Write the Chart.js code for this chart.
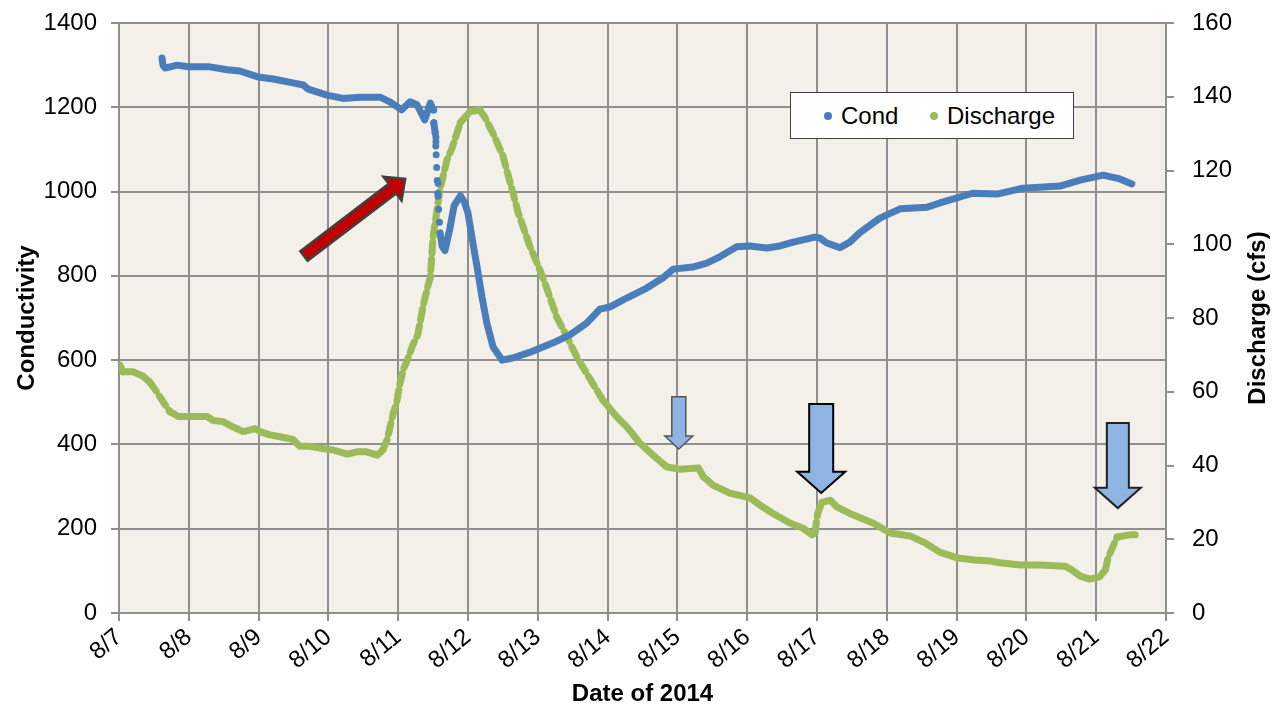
<!DOCTYPE html>
<html>
<head>
<meta charset="utf-8">
<script src="https://cdn.jsdelivr.net/npm/chart.js@4.4.1/dist/chart.umd.min.js"></script>
<style>
  body { margin: 0; background: #fff; }
  #wrap { position: relative; width: 1273px; height: 708px; }
  #legend {
    position: absolute; left: 790px; top: 92px; width: 282px; height: 45px;
    background: #fff; border: 1.5px solid #404040;
    font-family: "Liberation Sans", Arial, sans-serif; font-size: 24px; color: #000;
  }
  #legend span { position: absolute; top: 9px; }
  #legend i { position: absolute; top: 19px; width: 8px; height: 8px; border-radius: 50%; }
</style>
</head>
<body>
<div id="wrap">
  <canvas id="myChart" width="1273" height="708"></canvas>
  <div id="legend">
    <i style="left:33px;background:#4a7ebb"></i><span style="left:50px">Cond</span>
    <i style="left:139px;background:#9bbb59"></i><span style="left:156px">Discharge</span>
  </div>
</div>
<script>
// day of August 2014 (decimal) and the readings
const condDays = [7.616, 7.63, 7.66, 7.83, 7.99, 8.30, 8.55, 8.73, 8.99, 9.21, 9.49, 9.64, 9.71, 9.98,
  10.21, 10.45, 10.74, 10.88, 11.05, 11.17, 11.27, 11.38, 11.46, 11.50, 11.51, 11.53, 11.54, 11.55, 11.56,
  11.57, 11.585, 11.60, 11.63, 11.67, 11.74, 11.80, 11.89, 11.95, 12.00, 12.07, 12.13, 12.20, 12.27, 12.36,
  12.49, 12.64, 12.89, 13.22, 13.46, 13.70, 13.89, 14.03, 14.28, 14.56, 14.79, 14.94, 15.22, 15.42, 15.57,
  15.85, 16.04, 16.28, 16.47, 16.66, 16.97, 17.04, 17.14, 17.33, 17.47, 17.61, 17.90, 18.19, 18.58, 18.76,
  19.23, 19.58, 19.95, 20.48, 20.77, 21.10, 21.34, 21.51];
const condValues = [1317, 1300, 1293, 1300, 1296, 1296, 1289, 1286, 1272, 1267, 1258, 1253, 1243, 1229,
  1221, 1224, 1224, 1213, 1194, 1213, 1206, 1170, 1210, 1194, 1163, 1139, 1103, 1061, 1023,
  980, 945, 902, 870, 860, 912, 966, 990, 975, 949, 878, 821, 750, 688, 631,
  600, 605, 619, 641, 660, 688, 721, 726, 748, 771, 795, 816, 821, 830, 842,
  869, 871, 866, 871, 880, 892, 890, 878, 867, 880, 902, 937, 959, 963, 973,
  996, 994, 1008, 1013, 1027, 1039, 1030, 1018];

const dischargeDays = [7.014, 7.057, 7.20, 7.34, 7.44, 7.54, 7.63, 7.73, 7.85, 8.26, 8.35, 8.49, 8.63,
  8.78, 8.95, 9.02, 9.16, 9.31, 9.49, 9.59, 9.74, 9.88, 10.07, 10.27, 10.41, 10.55, 10.70, 10.78, 10.84,
  10.88, 10.93, 10.98, 11.02, 11.07, 11.13, 11.21, 11.28, 11.36, 11.43, 11.46, 11.50, 11.60, 11.70, 11.77,
  11.89, 12.03, 12.17, 12.24, 12.36, 12.50, 12.60, 12.72, 12.89, 13.03, 13.13, 13.27, 13.42, 13.56, 13.75,
  13.93, 14.13, 14.28, 14.46, 14.65, 14.85, 15.04, 15.30, 15.37, 15.51, 15.75, 16.04, 16.18, 16.37, 16.61,
  16.80, 16.93, 16.97, 16.99, 17.01, 17.07, 17.19, 17.29, 17.47, 17.80, 18.05, 18.33, 18.55, 18.76, 19.02,
  19.26, 19.48, 19.62, 19.91, 20.19, 20.55, 20.65, 20.77, 20.91, 21.05, 21.13, 21.17, 21.20, 21.30, 21.48, 21.56];
const dischargeValues = [67.2, 65.4, 65.4, 64.3, 62.6, 60, 57.3, 54.6, 53.3, 53.3, 52.2, 51.9, 50.5,
  49.2, 50, 49.2, 48.3, 47.8, 47.1, 45.2, 45.2, 44.7, 44.2, 43.1, 43.7, 43.7, 42.8, 44.2, 46.9,
  50.2, 54.2, 57.3, 61.8, 65.9, 68.6, 72.7, 75.4, 83.5, 89, 91, 102, 115, 123, 126,
  133, 136, 136.4, 134.5, 130, 124, 117, 108.5, 99.3, 93, 88, 80.3, 74.8, 69.4, 63.4,
  57.8, 53.2, 50.4, 46.1, 42.8, 39.6, 39, 39.3, 37, 34.7, 32.5, 31.2, 29.3, 27, 24.4,
  23, 21.2, 21.7, 24.4, 27, 30, 30.6, 28.7, 27, 24.4, 21.7, 20.9, 19, 16.5, 14.9,
  14.4, 14.1, 13.6, 13, 13, 12.7, 11.7, 10, 9.2, 9.8, 11.7, 14.9, 16.3, 20.6, 21.2, 21.2];

const dayTicks = [7, 8, 9, 10, 11, 12, 13, 14, 15, 16, 17, 18, 19, 20, 21, 22];
const condTicks = [0, 200, 400, 600, 800, 1000, 1200, 1400];
const dischargeTicks = [0, 20, 40, 60, 80, 100, 120, 140, 160];

const FONT = '"Liberation Sans", Arial, sans-serif';
const GRID = '#8f8f8f';

// red arrow: from tail to tip, in (day, conductivity)
const redArrow = { from: [9.65, 847], to: [11.10, 1030] };
// blue down arrows: centre day, top / head start / tip in conductivity units, half widths in px
const downArrows = [
  { day: 15.02, top: 513, neck: 420, tip: 389, shaft: 7, head: 14, stroke: '#555', lw: 1.5 },
  { day: 17.06, top: 496, neck: 335, tip: 285, shaft: 12, head: 24, stroke: '#000', lw: 2 },
  { day: 21.31, top: 451, neck: 297, tip: 249, shaft: 11, head: 23, stroke: '#222', lw: 2 }
];

function pts(xs, ys) {
  return xs.map((x, i) => ({ x: x, y: ys[i] }));
}

function slope(ctx) {
  const dx = Math.abs(ctx.p1.x - ctx.p0.x) || 0.01;
  return Math.abs(ctx.p1.y - ctx.p0.y) / dx;
}

// keep the plot area edges where the reference has them
function fixY(width) {
  return s => { s.width = width; s.paddingTop = 0; s.paddingBottom = 0; };
}

const plotBg = {
  id: 'plotBg',
  beforeDraw(chart) {
    const a = chart.chartArea, c = chart.ctx;
    c.save();
    c.fillStyle = '#f3f0ea';
    c.fillRect(a.left, a.top, a.right - a.left, a.bottom - a.top);
    c.restore();
  }
};

// right axis title reads bottom-to-top like the left one
const rightTitle = {
  id: 'rightTitle',
  afterDraw(chart) {
    const c = chart.ctx, a = chart.chartArea;
    c.save();
    c.translate(1258, (a.top + a.bottom) / 2);
    c.rotate(-Math.PI / 2);
    c.font = 'bold 24px ' + FONT;
    c.fillStyle = '#000';
    c.textAlign = 'center';
    c.textBaseline = 'middle';
    c.fillText('Discharge (cfs)', 0, 0);
    c.restore();
  }
};

const arrows = {
  id: 'arrows',
  afterDatasetsDraw(chart) {
    const c = chart.ctx, xs = chart.scales.x, ys = chart.scales.y;
    c.save();
    const x0 = xs.getPixelForValue(redArrow.from[0]), y0 = ys.getPixelForValue(redArrow.from[1]);
    const x1 = xs.getPixelForValue(redArrow.to[0]), y1 = ys.getPixelForValue(redArrow.to[1]);
    const len = Math.hypot(x1 - x0, y1 - y0);
    c.translate(x0, y0);
    c.rotate(Math.atan2(y1 - y0, x1 - x0));
    c.beginPath();
    c.moveTo(0, -6);
    c.lineTo(len - 16, -6);
    c.lineTo(len - 16, -15);
    c.lineTo(len, 0);
    c.lineTo(len - 16, 15);
    c.lineTo(len - 16, 6);
    c.lineTo(0, 6);
    c.closePath();
    c.fillStyle = '#c00000';
    c.fill();
    c.lineWidth = 2.5;
    c.strokeStyle = '#404040';
    c.stroke();
    c.restore();

    downArrows.forEach(a => {
      const cx = xs.getPixelForValue(a.day);
      const top = ys.getPixelForValue(a.top), neck = ys.getPixelForValue(a.neck), tip = ys.getPixelForValue(a.tip);
      c.save();
      c.beginPath();
      c.moveTo(cx - a.shaft, top);
      c.lineTo(cx + a.shaft, top);
      c.lineTo(cx + a.shaft, neck);
      c.lineTo(cx + a.head, neck);
      c.lineTo(cx, tip);
      c.lineTo(cx - a.head, neck);
      c.lineTo(cx - a.shaft, neck);
      c.closePath();
      c.fillStyle = '#8eb4e3';
      c.fill();
      c.lineWidth = a.lw;
      c.strokeStyle = a.stroke;
      c.stroke();
      c.restore();
    });
  }
};

const ctx = document.getElementById('myChart').getContext('2d');
const myChart = new Chart(ctx, {
  type: 'line',
  data: {
    datasets: [{
      label: 'Cond',
      data: pts(condDays, condValues),
      yAxisID: 'y',
      borderColor: '#4a7ebb',
      backgroundColor: '#4a7ebb',
      borderWidth: 7,
      borderCapStyle: 'round',
      borderJoinStyle: 'round',
      pointRadius: 0,
      tension: 0,
      segment: {
        borderDash: c => slope(c) > 8 ? [0, 13] : undefined
      }
    }, {
      label: 'Discharge',
      data: pts(dischargeDays, dischargeValues),
      yAxisID: 'y1',
      borderColor: '#9bbb59',
      backgroundColor: '#9bbb59',
      borderWidth: 7,
      borderCapStyle: 'round',
      borderJoinStyle: 'round',
      pointRadius: 0,
      tension: 0,
      segment: {
        borderDash: c => slope(c) > 1.3 ? [11, 6] : undefined
      }
    }]
  },
  options: {
    responsive: false,
    devicePixelRatio: 1,
    animation: false,
    layout: { padding: { top: 23 } },
    plugins: { legend: { display: false }, tooltip: { enabled: false } },
    scales: {
      x: {
        type: 'linear', min: 7, max: 22,
        afterFit: s => { s.height = 95; },
        afterBuildTicks: s => { s.ticks = dayTicks.map(v => ({ value: v })); },
        ticks: { callback: v => '8/' + v, minRotation: 40, maxRotation: 40, color: '#000', font: { family: FONT, size: 24 }, padding: 2 },
        grid: { color: GRID, lineWidth: 2, tickLength: 8 },
        border: { color: GRID, width: 2 },
        title: { display: true, text: 'Date of 2014', color: '#000', font: { family: FONT, size: 24, weight: 'bold', lineHeight: 1.1 }, padding: 0 }
      },
      y: {
        position: 'left', min: 0, max: 1400,
        afterFit: fixY(119),
        afterBuildTicks: s => { s.ticks = condTicks.map(v => ({ value: v })); },
        ticks: { callback: v => String(v), color: '#000', font: { family: FONT, size: 24 }, padding: 14 },
        grid: { color: GRID, lineWidth: 2, tickLength: 8 },
        border: { color: GRID, width: 2 },
        title: { display: true, text: 'Conductivity', color: '#000', font: { family: FONT, size: 24, weight: 'bold' }, padding: { top: 13, bottom: 0 } }
      },
      y1: {
        position: 'right', min: 0, max: 160,
        afterFit: fixY(107),
        afterBuildTicks: s => { s.ticks = dischargeTicks.map(v => ({ value: v })); },
        ticks: { callback: v => String(v), color: '#000', font: { family: FONT, size: 24 }, padding: 18 },
        grid: { drawOnChartArea: false, color: GRID, lineWidth: 2, tickLength: 8 },
        border: { color: GRID, width: 2 }
      }
    }
  },
  plugins: [plotBg, arrows, rightTitle]
});
</script>
</body>
</html>
